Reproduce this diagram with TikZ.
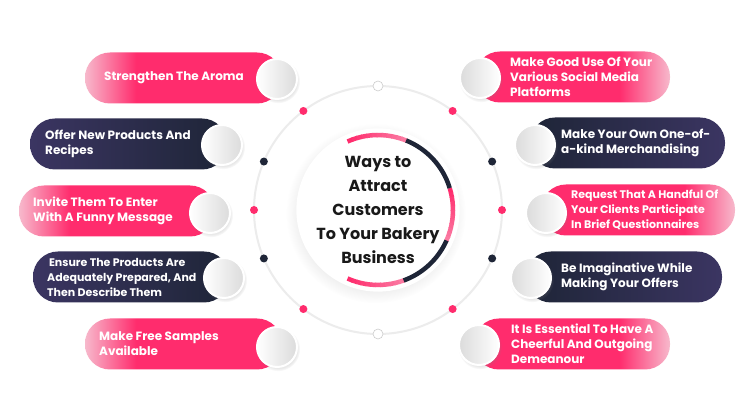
\documentclass[tikz,border=0pt]{standalone}
\usepackage{fontspec}
\setmainfont{Poppins}
\usepackage{tikz}
\usetikzlibrary{shadows,calc}
\definecolor{pinkmain}{HTML}{FF2C6D}
\definecolor{pinklight}{HTML}{F7B9CC}
\definecolor{navy}{HTML}{1E2537}
\definecolor{navylight}{HTML}{3B3562}
\definecolor{ringgray}{HTML}{ECECEC}
\pgfdeclarehorizontalshading{pinkfromleft}{100bp}{color(0bp)=(pinklight); color(25bp)=(pinklight); color(38bp)=(pinkmain); color(100bp)=(pinkmain)}
\pgfdeclarehorizontalshading{pinkfromright}{100bp}{color(0bp)=(pinkmain); color(62bp)=(pinkmain); color(75bp)=(pinklight); color(100bp)=(pinklight)}
\pgfdeclarehorizontalshading{navyfromleft}{100bp}{color(0bp)=(navylight); color(25bp)=(navylight); color(75bp)=(navy); color(100bp)=(navy)}
\pgfdeclarehorizontalshading{navyfromright}{100bp}{color(0bp)=(navy); color(25bp)=(navy); color(75bp)=(navylight); color(100bp)=(navylight)}
\tikzset{
  pill/.style={
    rectangle, rounded corners=25pt, minimum height=51pt,
    inner sep=0pt, shade, shading=#1
  },
  pill/.default=pinkfromleft,
  knob/.style={
    circle, minimum size=40pt, inner sep=0pt, draw=white, line width=2pt,
    shade, left color=white, right color=black!14,
    circular drop shadow={shadow xshift=1pt, shadow yshift=-2pt, opacity=.18}
  },
  knobR/.style={
    knob, left color=black!14, right color=white
  },
  pilltext/.style={
    anchor=west, font=\bfseries\fontsize{12}{15}\selectfont,
    text=white, align=left, inner sep=0pt
  },
  smalltext/.style={
    pilltext, font=\bfseries\fontsize{11}{15}\selectfont
  },
  hubnode/.style={
    circle, fill=white, minimum size=140pt, inner sep=0pt,
    font=\bfseries\fontsize{16}{24}\selectfont, align=center, text=black!90,
    circular drop shadow={shadow xshift=-2pt, shadow yshift=-3pt, opacity=.12}
  },
  ringarc/.style={line width=4.5pt},
  ringdot/.style={fill=#1},
}

\begin{document}
\begin{tikzpicture}[x=1pt, y=1pt]
  \fill[white] (0,0) rectangle (753,420);
  \useasboundingbox (0,0) rectangle (753,420);

  % outer ring with its dots
  \coordinate (mid) at (378,210);
  \draw[ringgray, line width=2pt] (mid) circle[radius=124];
  \foreach \a in {90,-90}
    \draw[black!20, fill=white, line width=0.6pt] (mid) ++(\a:124) circle[radius=5];
  \foreach \a in {53,0,-53,127,180,233}
    \fill[ringdot=pinkmain] (mid) ++(\a:124) circle[radius=4];
  \foreach \a in {23,-23,157,203}
    \fill[ringdot=navy] (mid) ++(\a:124) circle[radius=4];

  % centre
  \node[hubnode] (hub) at (mid) {Ways to\\Attract\\Customers\\To Your Bakery\\Business};

  % coloured arcs round the centre
  \foreach \s/\e in {114/68, 17/-24, -114/-70} {
    \foreach \k in {0,...,11} {
      \pgfmathsetmacro\pa{\s+(\e-\s)*\k/12}
      \pgfmathsetmacro\pb{\s+(\e-\s)*(\k+1.15)/12}
      \pgfmathtruncatemacro\mix{100-\k*5}
      \draw[ringarc, pinkmain!\mix!pinklight] (hub.center) ++(\pa:75) arc[start angle=\pa, end angle=\pb, radius=75];
    }
  }
  \foreach \s/\e in {68/17, -24/-70}
    \draw[ringarc, navy] (hub.center) ++(\s:75) arc[start angle=\s, end angle=\e, radius=75];

  % left side
  \node[pill=pinkfromleft, minimum width=197pt] (l1) at (183.5,342) {};
  \node[knob] (l1k) at (277,341) {};
  \node[pilltext] (l1t) at (104,342) {Strengthen The Aroma};

  \node[pill=navyfromleft, minimum width=197pt] (l2) at (128.5,276) {};
  \node[knob] (l2k) at (222,275) {};
  \node[pilltext] (l2t) at (45,276) {Offer New Products And\\Recipes};

  \node[pill=pinkfromleft, minimum width=196pt] (l3) at (117,209) {};
  \node[knob] (l3k) at (210,207) {};
  \node[pilltext] (l3t) at (33,209) {Invite Them To Enter\\With A Funny Message};

  \node[pill=navyfromleft, minimum width=196pt] (l4) at (131,143) {};
  \node[knob] (l4k) at (224,142) {};
  \node[smalltext] (l4t) at (47,143) {\,Ensure The Products Are\\Adequately Prepared, And\\Then Describe Them};

  \node[pill=pinkfromleft, minimum width=197pt] (l5) at (183.5,76) {};
  \node[knob] (l5k) at (277,73) {};
  \node[pilltext] (l5t) at (99,76) {Make Free Samples\\Available};

  % right side
  \node[pill=pinkfromright, minimum width=195pt] (r1) at (572.5,343) {};
  \node[knobR] (r1k) at (480,342) {};
  \node[pilltext] (r1t) at (510,343) {Make Good Use Of Your\\Various Social Media\\Platforms};

  \node[pill=navyfromright, minimum width=195pt] (r2) at (627.5,277) {};
  \node[knobR] (r2k) at (535,275) {};
  \node[pilltext] (r2t) at (561,277) {Make Your Own One-of-\\a-kind Merchandising};

  \node[pill=pinkfromright, minimum width=194pt] (r3) at (638,210) {};
  \node[knobR] (r3k) at (546,207) {};
  \node[smalltext] (r3t) at (571,210) {Request That A Handful Of\\Your Clients Participate\\In Brief Questionnaires};

  \node[pill=navyfromright, minimum width=196pt] (r4) at (624,143) {};
  \node[knobR] (r4k) at (531,142) {};
  \node[pilltext] (r4t) at (561,143) {Be Imaginative While\\Making Your Offers};

  \node[pill=pinkfromright, minimum width=196pt] (r5) at (572,76) {};
  \node[knobR] (r5k) at (479,75) {};
  \node[pilltext] (r5t) at (511,76) {It Is Essential To Have A\\Cheerful And Outgoing\\Demeanour};
\end{tikzpicture}
\end{document}
